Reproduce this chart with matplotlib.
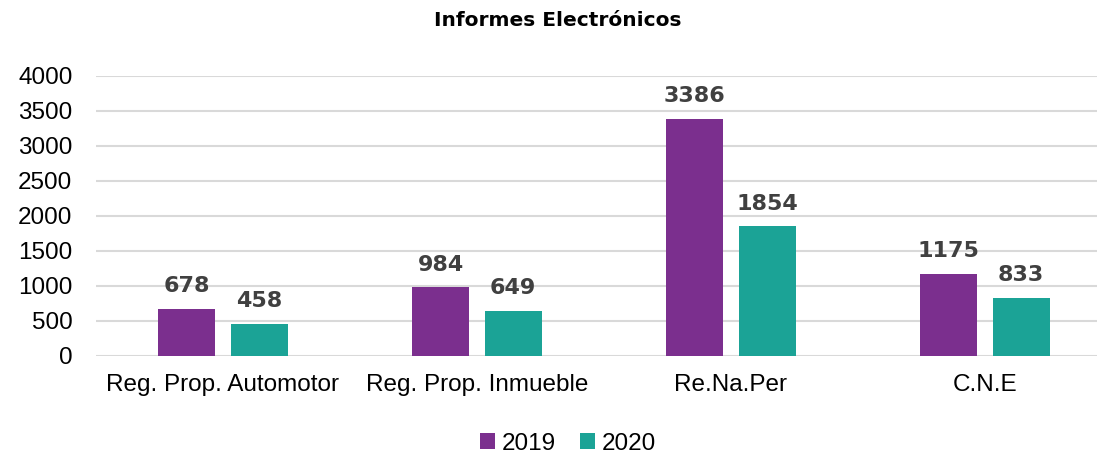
import numpy as np
import matplotlib.pyplot as plt

categories = ["Reg. Prop. Automotor", "Reg. Prop. Inmueble", "Re.Na.Per", "C.N.E"]
v2019 = [678, 984, 3386, 1175]
v2020 = [458, 649, 1854, 833]
series_names = ["2019", "2020"]
yticks = [0, 500, 1000, 1500, 2000, 2500, 3000, 3500, 4000]

plt.rcParams['font.family'] = ['Liberation Sans', 'DejaVu Sans']

fig = plt.figure(figsize=(10.97, 4.55), dpi=100)
ax = fig.add_axes([0.0875, 0.2176, 0.926, 0.6154])

x = np.arange(len(categories))
w = 0.224
off = 0.143
b1 = ax.bar(x - off, v2019, w, color='#7B2F8E', label=series_names[0], zorder=3)
b2 = ax.bar(x + off, v2020, w, color='#1BA396', label=series_names[1], zorder=3)

for bars in (b1, b2):
    for r in bars:
        ax.annotate(f"{int(r.get_height())}", (r.get_x() + r.get_width() / 2, r.get_height()),
                    xytext=(0, 9), textcoords='offset points', ha='center', va='bottom',
                    fontsize=16, fontweight='bold', color='#404040', family='DejaVu Sans')

ax.set_xlim(-0.5, 3.5)
ax.set_ylim(0, 4000)
ax.set_yticks(yticks)
ax.set_xticks(x)
ax.set_xticklabels(categories)
ax.tick_params(axis='both', length=0, labelsize=17.5, colors='black')
ax.tick_params(axis='y', pad=17)
ax.tick_params(axis='x', pad=13)
ax.yaxis.grid(True, color='#d9d9d9', linewidth=1.5, zorder=0)
for s in ax.spines.values():
    s.set_visible(False)

fig.suptitle("Informes Electrónicos", x=0.508, y=0.975, fontsize=14.5, fontweight='bold',
             family='DejaVu Sans')
fig.legend(loc='center', bbox_to_anchor=(0.518, 0.025), ncol=2, frameon=False,
           fontsize=17.5, handlelength=0.6, handleheight=0.6, handletextpad=0.3, columnspacing=1.0)

fig.savefig("out.png", dpi=100)
